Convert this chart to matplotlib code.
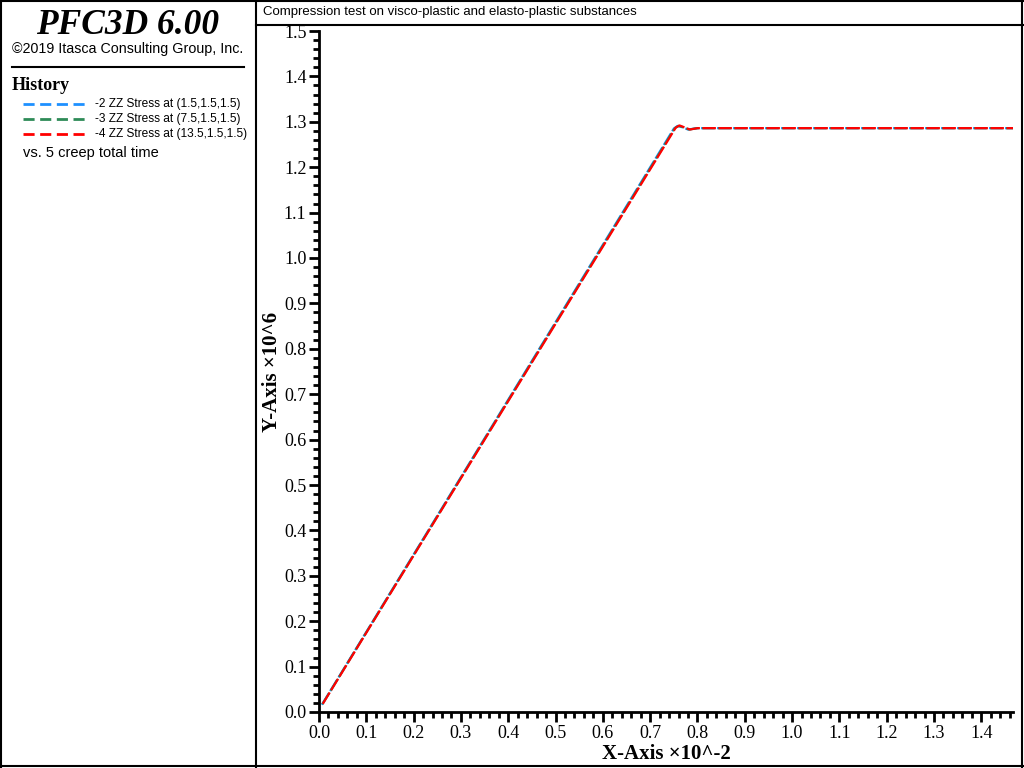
import matplotlib.pyplot as plt
from matplotlib.lines import Line2D

# history data (x in 1e-2, y in 1e6)
x_blue = [0.006, 0.750, 0.758, 0.768, 0.780, 0.80, 1.47]
y_blue = [0.016, 1.285, 1.291, 1.288, 1.283, 1.286, 1.286]
x_green = [0.007, 0.752, 0.760, 0.770, 0.782, 0.80, 1.47]
y_green = [0.017, 1.286, 1.291, 1.288, 1.283, 1.286, 1.286]
x_red = [0.008, 0.754, 0.762, 0.772, 0.784, 0.80, 1.47]
y_red = [0.018, 1.287, 1.292, 1.288, 1.283, 1.286, 1.286]

series_names = ["-2 ZZ Stress at (1.5,1.5,1.5)",
                "-3 ZZ Stress at (7.5,1.5,1.5)",
                "-4 ZZ Stress at (13.5,1.5,1.5)"]
colors = ["#1e90ff", "#2e8b57", "#ff0000"]

W, H = 1024, 768
fig = plt.figure(figsize=(W / 100, H / 100), dpi=100)

serif = "Liberation Serif"
sans = "Liberation Sans"


def fx(px):
    return px / W


def fy(py):
    return 1 - py / H


def fline(x0, y0, x1, y1, lw=1.5):
    fig.add_artist(Line2D([fx(x0), fx(x1)], [fy(y0), fy(y1)], color="black", lw=lw))


# frame lines
fline(1, 0, 1, 767)
fline(0, 766, 1023, 766)
fline(1022, 0, 1022, 767)
fline(0, 1, 1023, 1)
fline(256, 0, 256, 767)
fline(256, 25, 1023, 25)
fline(12, 67, 244, 67)

# left panel
fig.text(fx(128), fy(22), "PFC3D 6.00", family=serif, style="italic", weight="bold",
         fontsize=25.5, ha="center", va="center_baseline")
fig.text(fx(128), fy(49), "\u00a92019 Itasca Consulting Group, Inc.", family=sans,
         fontsize=10.3, ha="center", va="center")
fig.text(fx(12), fy(86), "History", family=serif, weight="bold", fontsize=13,
         ha="left", va="center")
for i, (name, c) in enumerate(zip(series_names, colors)):
    yy = 104 + i * 15
    fig.add_artist(Line2D([fx(23), fx(85)], [fy(yy), fy(yy)], color=c, lw=2,
                          dashes=(4, 2)))
    fig.text(fx(95), fy(yy), name, family=sans, fontsize=8.6, ha="left", va="center")
fig.text(fx(23), fy(153), "vs. 5 creep total time", family=sans, fontsize=10.5,
         ha="left", va="center")

# title box
fig.text(fx(263), fy(12), "Compression test on visco-plastic and elasto-plastic substances",
         family=sans, fontsize=9.5, ha="left", va="center")

# plot
ax = fig.add_axes([fx(319), fy(712), fx(1013) - fx(319), fy(31) - fy(712)])
for xs, ys, c in zip([x_blue, x_green, x_red], [y_blue, y_green, y_red], colors):
    ax.plot(xs, ys, color=c, lw=1.6, dashes=(6, 1.2))

ax.set_xlim(0, 1.467)
ax.set_ylim(0, 1.5)
ax.set_xticks([i / 10 for i in range(15)])
ax.set_yticks([i / 10 for i in range(16)])
ax.set_xticks([i / 50 for i in range(74)], minor=True)
ax.set_yticks([i / 50 for i in range(76)], minor=True)
ax.spines["top"].set_visible(False)
ax.spines["right"].set_visible(False)
ax.spines["left"].set_linewidth(2)
ax.spines["bottom"].set_linewidth(2)
ax.tick_params(which="major", length=7, width=2, direction="out", pad=2)
ax.tick_params(which="minor", length=4, width=2, direction="out")
for lab in ax.get_xticklabels() + ax.get_yticklabels():
    lab.set_family(serif)
    lab.set_fontsize(13)
ax.set_xlabel("X-Axis \u00d710^-2", family=serif, weight="bold", fontsize=15, labelpad=2)
ax.set_ylabel("Y-Axis \u00d710^6", family=serif, weight="bold", fontsize=15, labelpad=1)

fig.savefig("out.png", dpi=100)
